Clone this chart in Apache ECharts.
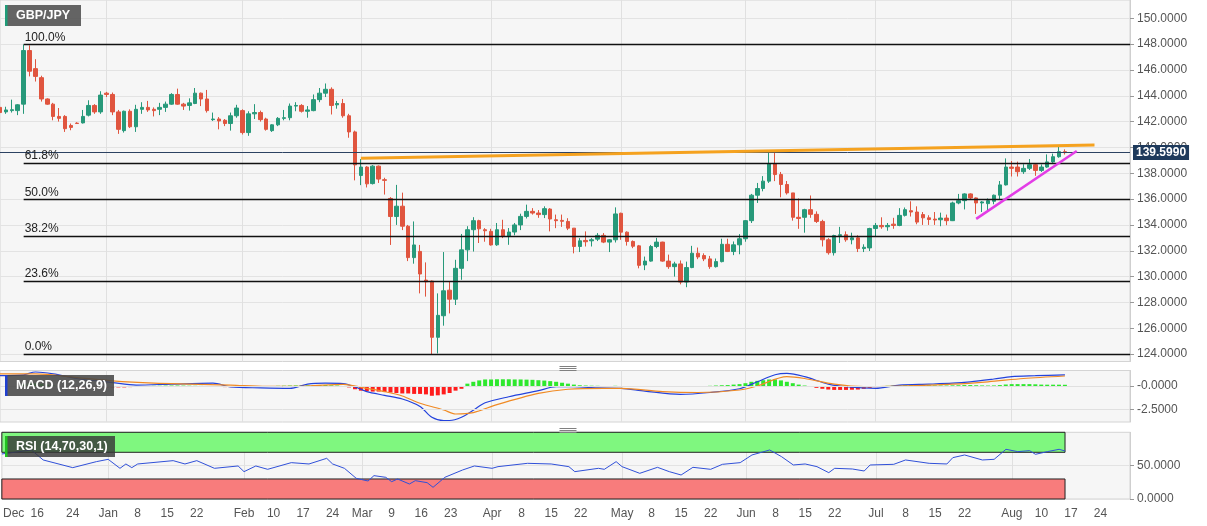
<!DOCTYPE html>
<html><head><meta charset="utf-8">
<script src="https://cdn.jsdelivr.net/npm/echarts@6/dist/echarts.min.js"></script>
<style>html,body{margin:0;padding:0;background:#fff}#c{width:1207px;height:526px}</style>
</head><body><div id="c"></div>
<script>
// ---------- DATA ----------
const startDate = [2019, 11, 6];   // first trading day shown (Dec 6, 2019)
const nDays = 192;                 // trading-day slots on the axis (to Aug 31)
const xTickIdx = [2,6,12,18,23,28,33,41,46,51,56,61,66,71,76,83,88,93,98,105,110,115,120,126,131,136,141,148,153,158,163,171,176,181,186];
const xTickLbl = ['Dec','16','24','Jan','8','15','22','Feb','10','17','24','Mar','9','16','23','Apr','8','15','22','May','8','15','22','Jun','8','15','22','Jul','8','15','22','Aug','10','17','24'];
const monthIdx = [18,41,61,83,105,126,148,171];
const yTicks = [124,126,128,130,132,134,136,138,140,142,144,146,148,150];
const macdTickVals = [0,-2.5];
const macdTickLbls = ['-0.0000','-2.5000'];
const rsiTickVals = [0,50];
const rsiTickLbls = ['0.0000','50.0000'];

const open = [143.10,142.75,142.85,142.85,143.35,147.50,146.10,145.40,143.75,143.35,
142.40,142.40,141.70,141.88,141.90,142.50,143.25,142.75,144.20,144.10,
142.75,141.30,142.80,141.60,142.95,143.10,142.95,142.95,143.10,143.35,
144.10,143.35,143.25,143.40,144.20,143.75,142.15,142.20,142.10,141.85,
142.45,142.85,141.15,142.60,142.70,142.20,141.30,141.75,142.25,142.30,
143.20,143.25,142.80,142.85,143.70,144.20,144.50,143.30,143.40,142.45,
141.20,137.83,138.48,137.20,138.55,137.50,136.05,134.65,135.45,133.90,
131.47,131.95,129.73,129.65,125.30,126.97,128.95,128.25,130.64,132.07,
133.63,134.33,133.63,133.50,132.46,133.63,133.10,133.45,134.00,134.66,
135.05,134.92,134.80,135.23,134.40,134.35,134.27,133.75,132.33,132.80,
132.77,132.90,133.19,132.67,132.85,134.90,133.44,132.72,132.38,130.90,
131.20,132.33,132.67,131.20,130.77,130.98,129.58,130.70,131.81,131.63,
131.37,130.77,131.16,132.50,131.94,132.46,132.93,134.33,136.30,136.82,
137.39,138.74,137.90,137.13,136.48,134.59,134.59,135.18,134.82,134.27,
132.85,131.85,133.18,133.24,132.85,133.00,132.17,132.22,133.72,133.96,
133.86,134.06,133.96,134.74,135.10,135.00,134.80,134.55,134.45,134.40,
134.53,134.33,135.70,135.88,136.40,136.09,135.70,135.65,135.83,136.30,
137.10,138.48,138.48,138.12,138.38,138.66,138.22,138.48,138.88,139.28,
139.67];
const close = [142.70,142.90,142.92,143.30,147.50,145.90,145.50,143.75,143.35,142.40,
142.25,141.45,141.55,141.85,142.40,143.25,142.75,144.05,144.10,142.75,
141.40,142.80,141.60,142.95,143.10,142.90,142.85,143.10,143.35,144.10,
143.35,143.20,143.45,144.20,143.75,142.85,142.20,142.05,141.85,142.45,
143.05,141.15,142.60,142.70,142.15,141.40,141.75,142.25,142.30,143.20,
143.25,142.80,142.90,143.70,144.20,144.50,143.25,143.40,142.45,141.20,
138.65,138.48,137.18,138.55,137.55,137.45,134.65,135.45,133.90,131.47,
132.45,130.20,129.60,125.30,127.00,128.90,128.25,130.64,132.07,133.63,
134.33,133.70,133.55,132.45,133.63,133.10,133.45,134.00,134.66,135.05,
134.92,134.80,135.26,134.46,134.33,134.28,133.75,132.33,132.77,132.70,
132.85,133.19,132.67,132.85,134.85,133.44,132.72,132.35,130.87,131.20,
132.33,132.67,131.20,130.77,130.98,129.58,130.70,131.81,131.52,131.37,
130.77,131.16,132.50,131.94,132.46,132.93,134.33,136.30,136.82,137.39,
138.74,137.90,137.13,136.48,134.59,134.50,135.18,134.82,134.27,132.85,
131.85,133.18,133.24,132.85,133.00,132.17,132.27,133.72,133.96,133.86,
133.96,133.96,134.74,135.18,135.00,134.22,134.55,134.42,134.38,134.53,
134.33,135.70,135.88,136.40,136.09,135.70,135.78,135.88,136.30,137.10,
138.48,138.38,138.12,138.38,138.66,138.22,138.48,138.88,139.28,139.67,
139.599];
const low = [142.40,142.60,142.70,142.50,142.60,145.50,145.10,143.55,143.30,142.10,
142.00,141.20,141.33,141.82,141.85,142.40,142.60,142.60,143.90,142.50,
141.05,141.15,141.50,141.20,142.60,142.75,142.40,142.50,142.75,143.30,
143.30,142.90,142.85,143.35,143.20,142.70,142.05,141.40,141.65,141.30,
142.30,141.00,140.90,142.20,142.00,141.30,141.20,141.65,142.10,142.10,
142.80,142.70,142.30,142.80,143.50,143.90,142.55,143.00,142.30,140.75,
137.45,137.08,136.90,137.13,137.25,136.35,132.45,134.00,133.60,131.20,
131.00,128.70,128.45,124.00,124.05,126.20,127.15,127.80,129.75,131.20,
131.94,132.60,132.70,132.40,132.38,132.98,132.46,133.20,133.60,134.50,
134.80,134.55,134.53,133.50,133.75,133.85,133.60,131.80,131.90,132.33,
132.33,132.75,132.59,131.90,132.64,132.85,132.40,132.20,130.64,130.50,
131.15,132.20,131.15,130.60,130.00,129.40,129.18,130.65,131.35,131.20,
130.60,130.70,131.10,131.90,131.66,131.73,132.70,134.15,135.70,136.60,
137.25,137.39,136.14,136.35,134.33,133.70,133.40,134.55,134.15,132.33,
131.70,131.63,132.60,132.70,132.50,131.90,131.90,131.98,133.10,133.70,
133.55,133.70,133.90,134.65,134.65,134.05,134.00,134.00,134.00,133.90,
133.98,134.30,135.60,135.20,135.95,134.85,135.00,135.15,135.60,135.95,
137.05,137.75,137.75,137.95,138.25,137.80,138.10,138.42,138.80,139.20,
139.45];
const high = [143.20,143.15,143.70,143.35,147.96,147.90,146.83,145.55,143.80,143.45,
143.05,142.50,141.85,141.95,142.90,143.65,143.35,144.35,144.30,144.25,
142.90,142.85,142.95,143.30,143.50,143.60,143.10,143.45,143.55,144.20,
144.55,143.45,143.80,144.60,144.25,144.45,142.70,142.35,142.20,142.70,
143.30,142.95,142.80,143.35,142.85,142.30,141.80,142.35,142.90,143.40,
143.50,143.35,143.20,144.10,144.60,144.95,144.65,143.60,143.75,142.60,
141.30,139.10,138.55,138.63,138.60,137.65,136.15,137.10,136.50,134.00,
134.27,132.45,131.10,129.70,128.70,131.90,129.65,131.30,133.30,133.90,
134.60,134.40,133.75,133.70,134.15,134.40,133.76,134.15,134.87,135.57,
135.30,135.15,135.44,135.30,134.80,134.80,134.52,133.75,132.98,133.50,
132.98,133.37,133.37,132.90,135.36,134.95,133.50,132.80,132.45,131.55,
132.45,133.00,132.70,131.70,131.15,131.25,131.16,132.38,132.25,131.80,
131.60,131.40,132.93,132.93,132.72,133.29,134.38,136.40,137.25,137.78,
139.65,139.65,138.10,137.40,136.48,136.05,135.25,136.28,135.05,134.40,
132.98,133.24,133.85,133.50,133.40,133.20,132.50,133.78,134.15,134.59,
134.15,134.55,135.30,135.35,135.83,135.44,135.00,134.75,135.00,134.95,
134.80,135.80,136.40,136.45,136.45,136.13,135.85,136.05,136.35,137.40,
139.15,138.95,138.90,138.70,139.10,138.75,138.68,139.46,139.52,140.10,
139.85];

const fibRatios = [1, 0.618, 0.5, 0.382, 0.236, 0];
const fibLabels = ['100.0%','61.8%','50.0%','38.2%','23.6%','0.0%'];
const fibStartIdx = 4;
const orangeLine = [[61,139.16],[185,140.19]];
const magentaLine = [[165,134.47],[182,139.72]];

const macdLine = [[0,1.1],[4,1.2],[6,1.5],[9,1.3],[13,0.8],[19,0.36],[23,0.1],[29,0.2],[36,0.3],[39,-0.1],[44,-0.2],[49,-0.25],[52,0.2],[55,0.3],[58,0.25],[60,-0.1],[62,-0.6],[65,-1.0],[68,-1.4],[71,-2.2],[73,-3.35],[75,-3.7],[76,-3.7],[78,-3.35],[80,-2.6],[82,-1.8],[86,-1.15],[91,-0.5],[94,-0.07],[97,-0.07],[101,-0.2],[105,-0.25],[109,-0.55],[115,-0.9],[120,-0.7],[125,-0.3],[128,0.45],[131,1.2],[133,1.35],[136,1.0],[140,0.2],[143,-0.07],[148,-0.25],[152,0.1],[157,0.2],[161,0.3],[164,0.45],[168,0.75],[171,1.0],[175,1.1],[180,1.2]];
const signalLine = [[0,1.3],[6,1.3],[13,0.9],[19,0.55],[26,0.3],[32,0.2],[39,0.1],[45,-0.05],[52,0.0],[58,0.18],[62,-0.25],[65,-0.6],[68,-1.07],[71,-1.85],[75,-2.57],[77,-3.0],[80,-2.85],[84,-2.0],[91,-0.8],[96,-0.35],[102,-0.25],[105,-0.25],[112,-0.6],[118,-0.7],[125,-0.43],[128,0.0],[133,1.0],[136,0.8],[141,0.2],[146,-0.07],[152,0.0],[161,0.2],[167,0.45],[173,0.8],[180,1.07]];
const macdHist = [-0.1,-0.1,-0.05,0,0.2,0.3,0.3,0.25,0.15,0.05,
-0.05,-0.1,-0.15,-0.2,-0.2,-0.2,-0.15,-0.15,-0.15,-0.15,
-0.15,-0.15,-0.12,-0.1,-0.05,-0.02,0.02,0.03,0.04,0.05,
0.05,0.04,0.03,0.02,0.01,-0.02,-0.08,-0.1,-0.12,-0.12,
-0.12,-0.12,-0.1,-0.1,-0.08,-0.06,-0.03,0.02,0.03,0.05,
0.06,0.06,0.07,0.08,0.1,0.1,0.07,0.05,0.0,-0.15,
-0.35,-0.5,-0.55,-0.6,-0.6,-0.65,-0.7,-0.75,-0.8,-0.8,
-0.85,-0.85,-0.9,-1.05,-1.0,-0.9,-0.75,-0.5,-0.3,0.25,
0.45,0.6,0.7,0.7,0.72,0.72,0.72,0.7,0.7,0.68,
0.66,0.62,0.58,0.52,0.45,0.35,0.25,0.15,0.08,0.05,
0.03,0.02,0.0,-0.02,0.02,-0.02,-0.05,-0.1,-0.1,-0.1,
-0.1,-0.1,-0.1,-0.1,-0.1,-0.1,-0.1,-0.1,-0.05,-0.02,
0.02,0.05,0.08,0.1,0.15,0.2,0.3,0.45,0.55,0.62,
0.7,0.7,0.6,0.45,0.3,0.15,0.05,-0.1,-0.2,-0.3,
-0.38,-0.42,-0.42,-0.42,-0.4,-0.38,-0.3,-0.2,-0.12,-0.05,
0.02,0.04,0.06,0.08,0.09,0.09,0.08,0.07,0.06,0.05,
0.05,0.07,0.08,0.1,0.1,0.08,0.06,0.05,0.06,0.1,
0.16,0.2,0.2,0.2,0.2,0.18,0.15,0.14,0.14,0.14,0.13];
const rsiLine = [[0,67.5],[5,73.5],[7,58.5],[12,47],[16,56],[18,59.5],[20,46],[21,52.5],[22,47],[23,52.5],[29,57.5],[31,52.5],[33,57.5],[36,46],[40,49.5],[41,41],[43,49.5],[45,44.5],[49,54.5],[52,52.5],[55,61],[56,52.5],[58,46],[60,31],[62,27],[63,35],[65,32.5],[66,26],[67,30],[69,22.5],[70,27.5],[72,24.5],[73,17.5],[75,32.5],[78,43.5],[80,49.5],[83,46],[84,48.5],[89,53.5],[93,52.5],[96,48.5],[97,41],[101,46],[102,44.5],[104,56],[105,48.5],[108,38.5],[111,47.5],[113,41],[115,36],[117,47.5],[120,44.5],[122,52],[125,54.5],[127,66],[130,73.5],[132,63.5],[134,51],[136,52.5],[138,48.5],[140,39.5],[141,46],[144,45],[146,42],[147,51],[151,52],[153,58.5],[157,53.5],[160,52.5],[161,62],[163,66],[166,58.5],[168,59.5],[170,74.5],[172,71],[174,72.5],[175,67],[177,71],[179,74.5],[180,72]];

// ---------- BUILD ----------
const cats = [];
{ const d = new Date(Date.UTC(startDate[0], startDate[1], startDate[2]));
  while (cats.length < nDays) { const wd = d.getUTCDay(); if (wd !== 0 && wd !== 6) cats.push(d.toISOString().slice(0,10)); d.setUTCDate(d.getUTCDate()+1); } }
const lastIdx = close.length - 1;
const lastClose = close[lastIdx];
const candleData = open.map((o,i)=>[o, close[i], low[i], high[i]]);
const hi = Math.max(...high), lo = Math.min(...low);
const FONT = 'Arial, "Liberation Sans", "DejaVu Sans", sans-serif';
const UP = '#27997a', DOWN = '#e0553f';

const fibData = fibRatios.map((r,k)=>{ const v = lo + r*(hi-lo);
  return [{coord:[fibStartIdx, v], lineStyle:{color:'#111', width:1.3, type:'solid'},
           label:{show:true, formatter: fibLabels[k], position:'insideStartTop', distance:[1,1], color:'#222', fontSize:12, fontFamily:FONT}},
          {coord:[nDays-1, v]}]; });

const G = [ {left:0, top:0, width:1130, height:361.5},
            {left:0, top:370.5, width:1130, height:51.5},
            {left:0, top:432.3, width:1130, height:66.7} ].map(g=>Object.assign(g,{show:true, backgroundColor:'#f6f6f6', borderColor:'#d4d4d4', borderWidth:1}));

const xAx = (gi, lab) => ({
  type:'category', gridIndex:gi, data:cats, boundaryGap:false,
  axisLine:{show:false}, axisTick:{show:false},
  axisLabel: lab ? {show:true, interval:(i)=>xTickIdx.includes(i), formatter:(v,i)=>xTickLbl[xTickIdx.indexOf(i)], color:'#555', fontSize:12, fontFamily:FONT, margin:9} : {show:false},
  splitLine:{show:true, interval:(i)=>monthIdx.includes(i), lineStyle:{color:'#e0e0e0', width:1}}
});
const yLab = {color:'#555', fontSize:12, fontFamily:FONT, margin:7};

function labelBox(top, w, text, accent, fill) {
  return {type:'group', left:5, top:top, zlevel:2, children:[
    {type:'rect', z:100, shape:{x:0,y:0,width:w,height:21}, style:{fill:fill}},
    {type:'rect', z:101, shape:{x:0,y:0,width:2.5,height:21}, style:{fill:accent}},
    {type:'text', z:102, x:11, y:10.5, style:{text:text, fill:'#fff', font:'bold 12.5px '+FONT, verticalAlign:'middle'}}]};
}
function handle(top) {
  return {type:'group', left:557, top:top, zlevel:2, children:[0,2,4].map(dy=>({type:'line', z:100, shape:{x1:0,y1:dy+0.5,x2:17,y2:dy+0.5}, style:{stroke:'#808080', lineWidth:1}}))};
}

const option = {
  animation:false,
  backgroundColor:'#ffffff',
  grid: G,
  xAxis: [xAx(0,false), xAx(1,false), xAx(2,true)],
  yAxis: [
    {type:'value', gridIndex:0, position:'right', min:123.427, max:151.413, splitNumber:14, scale:true,
     axisLine:{show:true, lineStyle:{color:'#cfcfcf'}},
     axisTick:{show:true, length:4, customValues:yTicks, lineStyle:{color:'#999'}},
     axisLabel:Object.assign({customValues:yTicks, formatter:(v)=>v.toFixed(4)}, yLab),
     splitLine:{show:true, lineStyle:{color:'#e3e3e3'}}},
    {type:'value', gridIndex:1, position:'right', min:-3.86, max:1.66, scale:true,
     axisLine:{show:true, lineStyle:{color:'#cfcfcf'}},
     axisTick:{show:true, length:4, customValues:macdTickVals, lineStyle:{color:'#999'}},
     axisLabel:Object.assign({customValues:macdTickVals, formatter:(v)=>macdTickLbls[macdTickVals.indexOf(v)]}, yLab),
     splitLine:{show:false}},
    {type:'value', gridIndex:2, position:'right', min:0, max:100, interval:50,
     axisLine:{show:true, lineStyle:{color:'#cfcfcf'}},
     axisTick:{show:true, length:4, customValues:rsiTickVals, lineStyle:{color:'#999'}},
     axisLabel:Object.assign({customValues:rsiTickVals, formatter:(v)=>rsiTickLbls[rsiTickVals.indexOf(v)]}, yLab),
     splitLine:{show:true, lineStyle:{color:'#e3e3e3'}}}
  ],
  series: [
    {type:'candlestick', xAxisIndex:0, yAxisIndex:0, data:candleData, barWidth:4,
     itemStyle:{color:UP, color0:DOWN, borderColor:UP, borderColor0:DOWN, borderWidth:1},
     markLine:{silent:true, symbol:['none','none'], animation:false,
       data: fibData.concat([{yAxis:lastClose, lineStyle:{color:'#2c4262', width:1, type:'solid'},
         label:{show:true, position:'end', distance:3, formatter:lastClose.toFixed(4), color:'#fff', fontWeight:'bold', fontSize:12, fontFamily:FONT,
                backgroundColor:'#1e3a5c', padding:[2,3,1,3]}}])}},
    {type:'line', xAxisIndex:0, yAxisIndex:0, data:orangeLine, symbol:'none', z:5,
     lineStyle:{color:'#f5a21f', width:3}},
    {type:'line', xAxisIndex:0, yAxisIndex:0, data:magentaLine, symbol:'none', z:5,
     lineStyle:{color:'#e33de6', width:2.5}},
    {type:'bar', xAxisIndex:1, yAxisIndex:1, barWidth:4,
     data: macdHist.map(v=>({value:v, itemStyle:{color: v>=0 ? '#2ee82e' : '#ff1c1c'}})),
     markLine:{silent:true, symbol:['none','none'], label:{show:false},
       data: macdTickVals.map(v=>({yAxis:v})), lineStyle:{color:'#e0e0e0', width:1, type:'solid'}}},
    {type:'line', xAxisIndex:1, yAxisIndex:1, data:macdLine, symbol:'none', smooth:0.3,
     lineStyle:{color:'#2342dc', width:1.2}},
    {type:'line', xAxisIndex:1, yAxisIndex:1, data:signalLine, symbol:'none', smooth:0.3,
     lineStyle:{color:'#f08a24', width:1.2}},
    {type:'line', xAxisIndex:2, yAxisIndex:2, data:rsiLine, symbol:'none',
     lineStyle:{color:'#3050d8', width:1},
     markArea:{silent:true, data:[
       [{xAxis:0, yAxis:70, itemStyle:{color:'#7ff77f', borderColor:'#222', borderWidth:1}}, {xAxis:lastIdx, yAxis:100}],
       [{xAxis:0, yAxis:0, itemStyle:{color:'#f87c7c', borderColor:'#222', borderWidth:1}}, {xAxis:lastIdx, yAxis:30}]
     ]}}
  ],
  graphic: [
    labelBox(5, 76, 'GBP/JPY', '#1f9c78', 'rgba(88,88,88,0.93)'),
    labelBox(375, 109, 'MACD (12,26,9)', '#2040d0', 'rgba(72,72,72,0.88)'),
    labelBox(436, 110, 'RSI (14,70,30,1)', '#1fc21f', 'rgba(55,55,55,0.82)'),
    handle(364), handle(426)
  ]
};
const chart = echarts.init(document.getElementById('c'), null, {renderer:'canvas'});
chart.setOption(option);
</script></body></html>
